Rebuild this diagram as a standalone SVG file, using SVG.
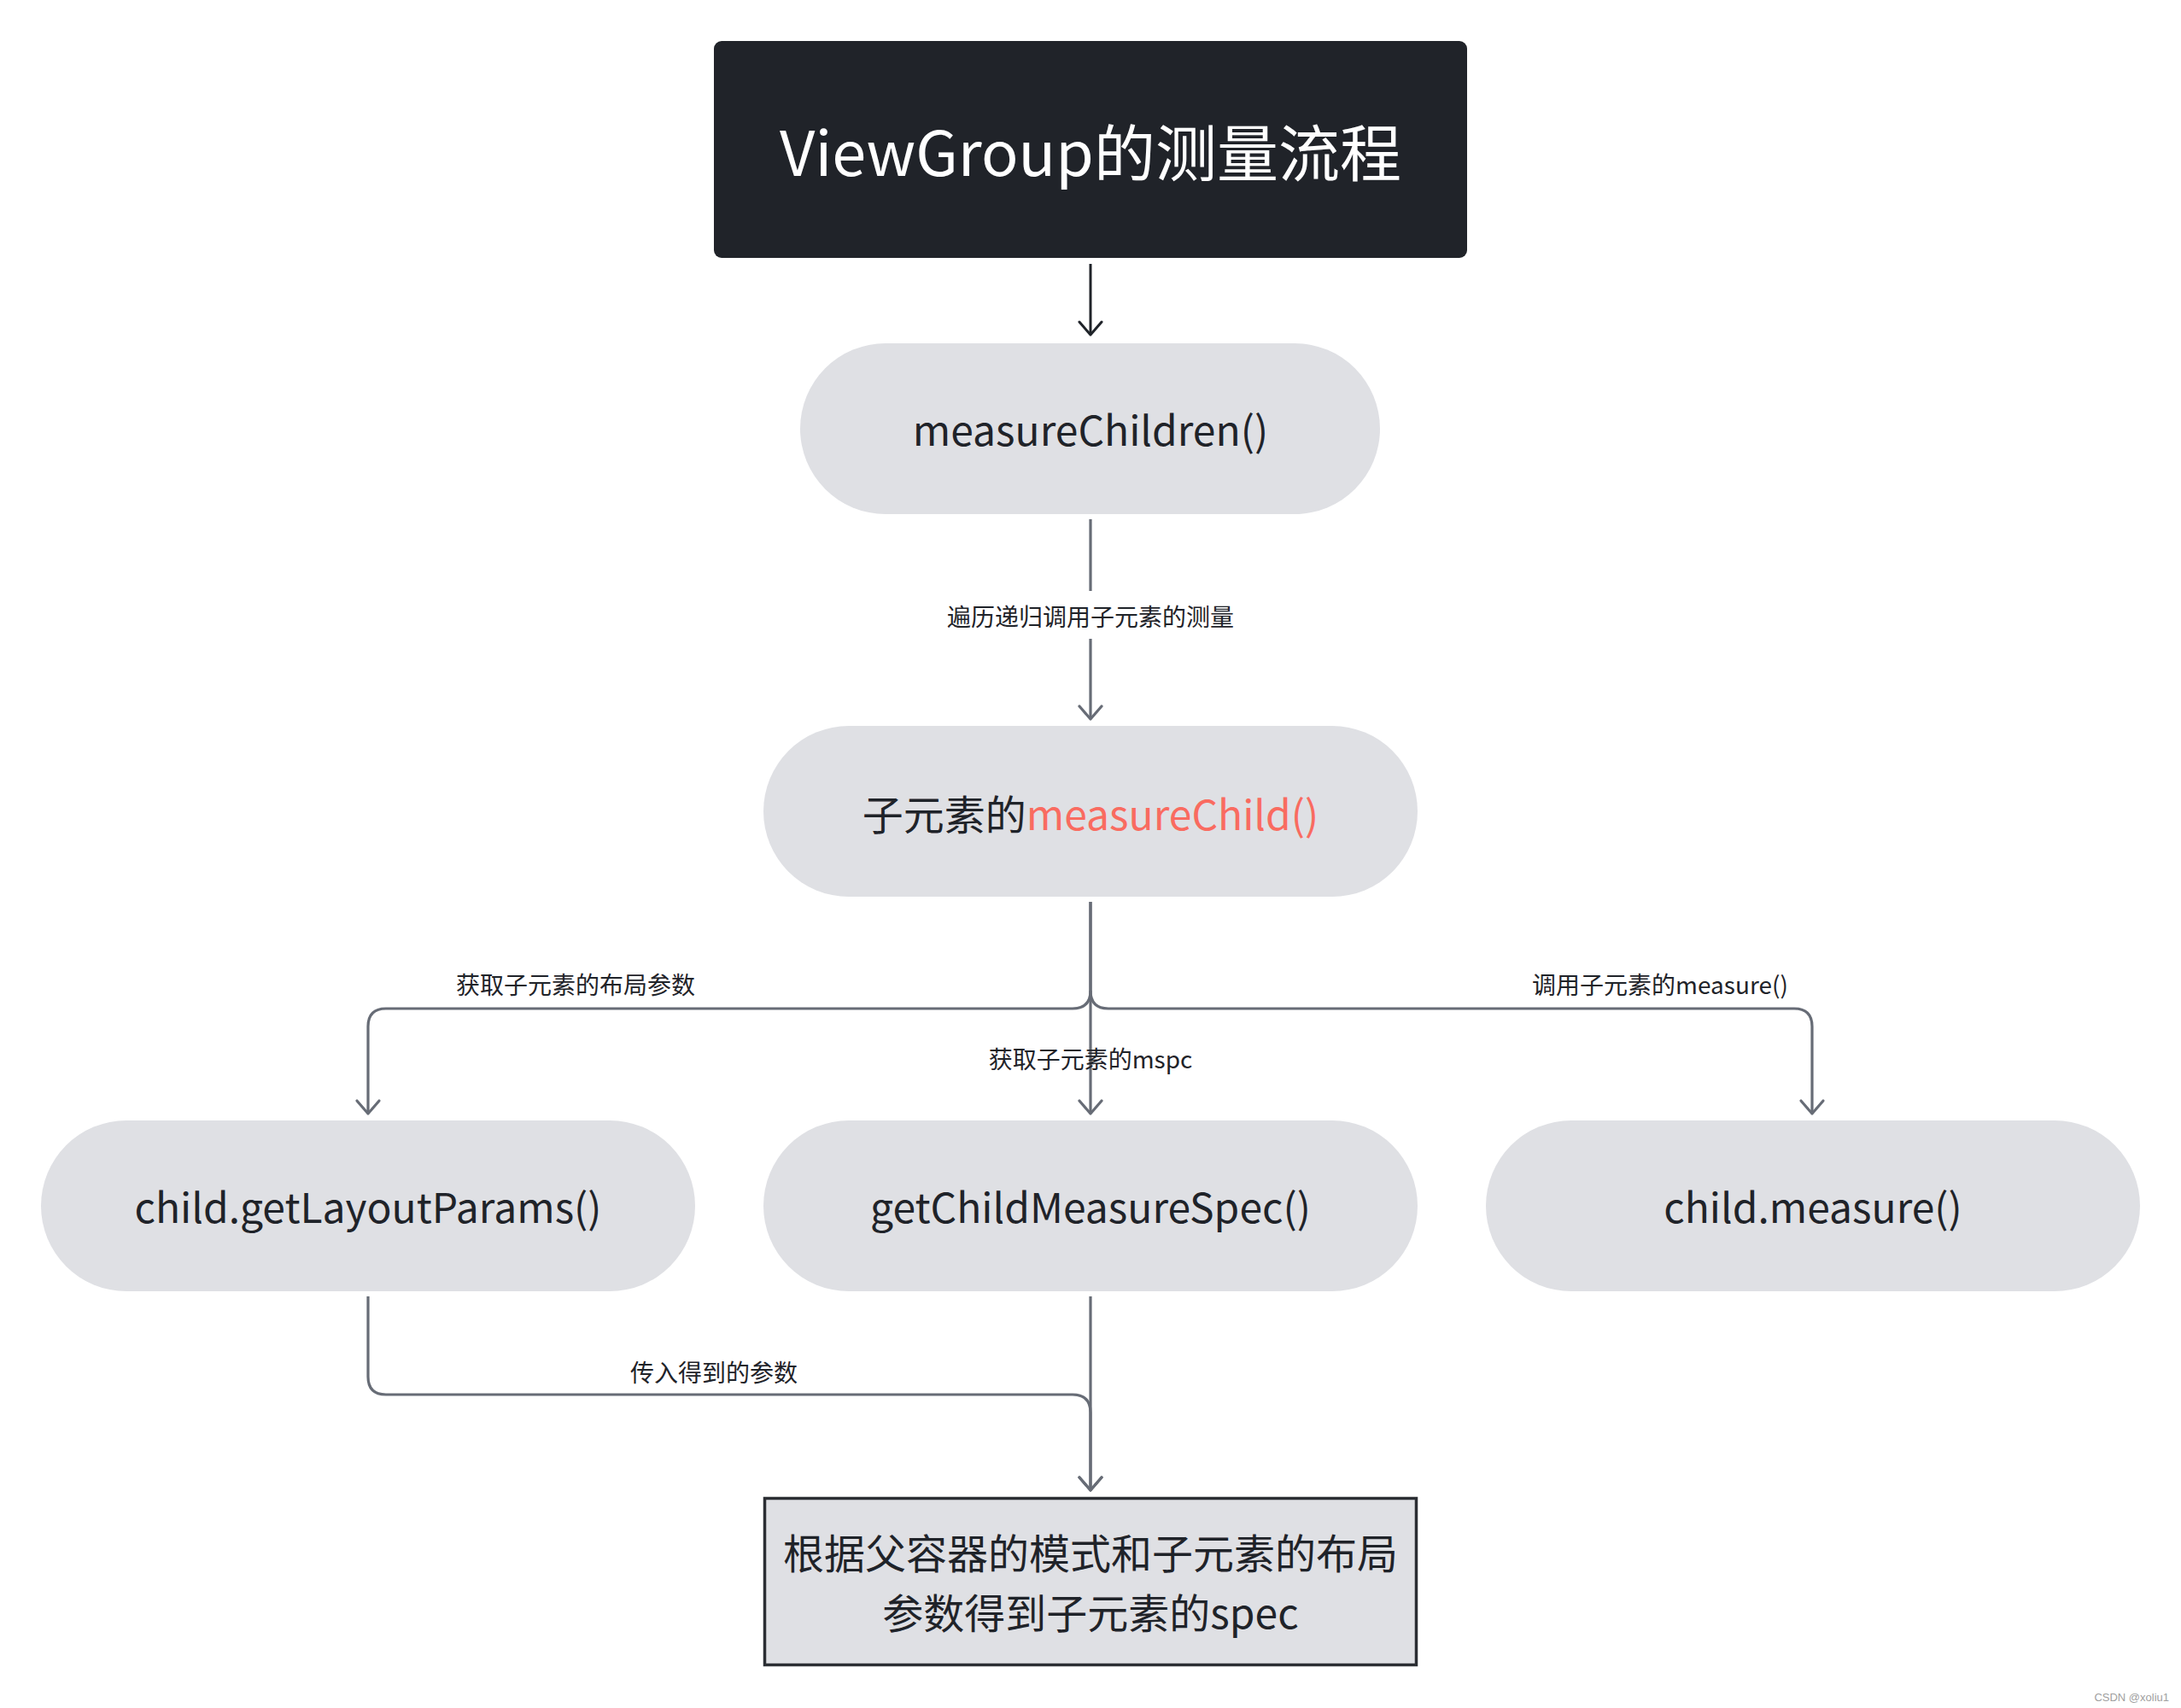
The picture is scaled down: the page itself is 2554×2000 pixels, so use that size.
<svg xmlns="http://www.w3.org/2000/svg" width="2554" height="2000" viewBox="0 0 2554 2000">
<style>
.pill{fill:#dfe0e4}
.t{font-family:"Noto Sans CJK SC","Noto Sans",sans-serif;fill:#1f2329;text-anchor:middle}
.big{font-size:48px}
.lbl{font-size:28px}
.c{fill:none;stroke:#676c76;stroke-width:3.2}
</style>
<defs>
<marker id="ag" markerUnits="userSpaceOnUse" markerWidth="40" markerHeight="40" viewBox="-20 -20 40 40" refX="0" refY="0" orient="auto">
<path d="M-15,-13 L0,0 L-15,13" fill="none" stroke="#676c76" stroke-width="3.2" stroke-linecap="round" stroke-linejoin="round"/>
</marker>
<marker id="ad" markerUnits="userSpaceOnUse" markerWidth="40" markerHeight="40" viewBox="-20 -20 40 40" refX="0" refY="0" orient="auto">
<path d="M-15,-13 L0,0 L-15,13" fill="none" stroke="#1f2329" stroke-width="3" stroke-linecap="round" stroke-linejoin="round"/>
</marker>
</defs>
<rect width="2554" height="2000" fill="#ffffff"/>

<g id="connectors">
<path d="M1277,309 V392" fill="none" stroke="#1f2329" stroke-width="3" marker-end="url(#ad)"/>
<path class="c" d="M1277,608 V692 M1277,748 V842" marker-end="url(#ag)"/>
<path class="c" d="M1277,1056 V1160 Q1277,1181 1256,1181 H452 Q431,1181 431,1202 V1304" marker-end="url(#ag)"/>
<path class="c" d="M1277,1056 V1304" marker-end="url(#ag)"/>
<path class="c" d="M1277,1160 Q1277,1181 1298,1181 H2101 Q2122,1181 2122,1202 V1304" marker-end="url(#ag)"/>
<path class="c" d="M431,1518 V1612 Q431,1633 452,1633 H1256 Q1277,1633 1277,1654 V1745" marker-end="url(#ag)"/>
<path class="c" d="M1277,1518 V1745" marker-end="url(#ag)"/>
<text class="t lbl" x="1277" y="733">遍历递归调用子元素的测量</text>
<text class="t lbl" x="674" y="1164">获取子元素的布局参数</text>
<text class="t lbl" x="1944" y="1164">调用子元素的measure()</text>
<text class="t lbl" x="1277" y="1251">获取子元素的mspc</text>
<text class="t lbl" x="836" y="1618">传入得到的参数</text>
</g>

<g id="title">
<rect x="836" y="48" width="882" height="254" rx="9" fill="#202329"/>
<text class="t" x="1277" y="206" font-size="72" style="fill:#ffffff">ViewGroup的测量流程</text>
</g>

<g id="measureChildren">
<rect class="pill" x="937" y="402" width="679" height="200" rx="100"/>
<text class="t big" x="1277" y="522">measureChildren()</text>
</g>

<g id="measureChild">
<rect class="pill" x="894" y="850" width="766" height="200" rx="100"/>
<text class="t big" x="1277" y="972">子元素的<tspan fill="#f96b60">measureChild()</tspan></text>
</g>

<g id="getLayoutParams">
<rect class="pill" x="48" y="1312" width="766" height="200" rx="100"/>
<text class="t big" x="431" y="1432">child.getLayoutParams()</text>
</g>

<g id="getChildMeasureSpec">
<rect class="pill" x="894" y="1312" width="766" height="200" rx="100"/>
<text class="t big" x="1277" y="1432">getChildMeasureSpec()</text>
</g>

<g id="childMeasure">
<rect class="pill" x="1740" y="1312" width="766" height="200" rx="100"/>
<text class="t big" x="2123" y="1432">child.measure()</text>
</g>

<g id="result">
<rect x="895.5" y="1754.5" width="763" height="195" fill="#dfe0e4" stroke="#2b2e33" stroke-width="3.5"/>
<text class="t big" x="1277" y="1837">根据父容器的模式和子元素的布局</text>
<text class="t big" x="1277" y="1907">参数得到子元素的spec</text>
</g>

<text x="2540" y="1992" font-family="Liberation Sans,sans-serif" font-size="13" fill="#a0a0a0" text-anchor="end">CSDN @xoliu1</text>
</svg>
